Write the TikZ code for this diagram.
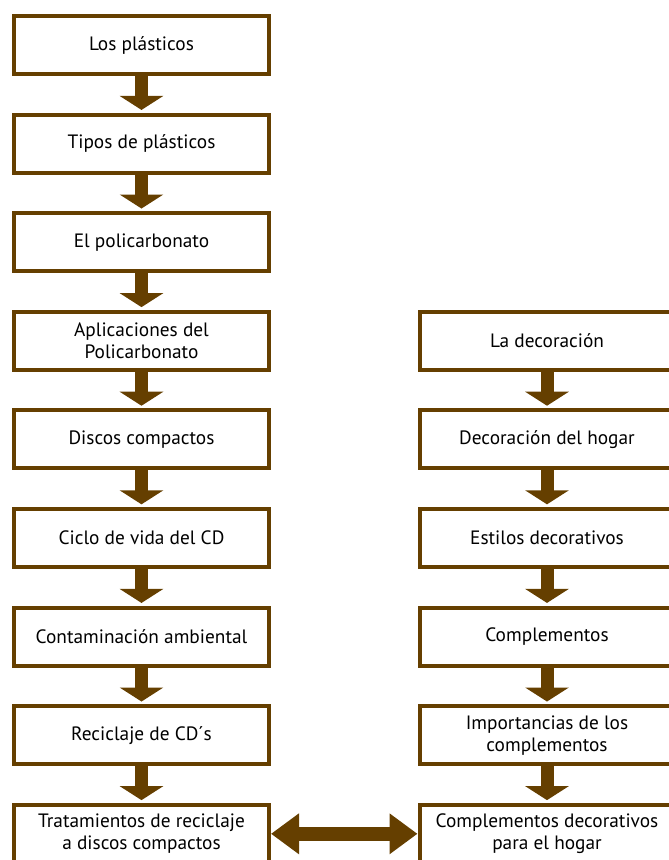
\documentclass[tikz,border=0pt]{standalone}
\usepackage{fontspec}
\setmainfont{PT Sans}
\usetikzlibrary{arrows.meta}
\definecolor{brownline}{HTML}{653F00}

\begin{document}
\begin{tikzpicture}[x=0.75pt, y=-0.75pt,
    box/.style={draw=brownline, line width=3pt, fill=white, align=center,
        minimum width=191.25pt, minimum height=43.5pt, inner sep=2pt,
        font=\fontsize{14.5pt}{16.5pt}\selectfont},
    flow/.style={draw=brownline, line width=9.75pt, shorten >=2pt,
        -{Triangle[width=32.25pt, length=10.5pt]}},
    link/.style={draw=brownline, line width=10.5pt,
        {Triangle[width=29.25pt, length=21pt]}-{Triangle[width=29.25pt, length=21pt]}}]
    \useasboundingbox (0,0) rectangle (668,860);
    % left column
    \foreach \txt [count=\i] in {Los plásticos, Tipos de plásticos, El policarbonato,
            {Aplicaciones del\\Policarbonato}, Discos compactos, Ciclo de vida del CD,
            Contaminación ambiental, Reciclaje de CD´s,
            {Tratamientos de reciclaje\\a discos compactos}} {
        \pgfmathsetmacro{\ypos}{45+98.6*(\i-1)}
        \node[box] (L\i) at (141.5,\ypos) {\txt};
    }
    % right column
    \foreach \txt [count=\i from 4] in {La decoración, Decoración del hogar,
            Estilos decorativos, Complementos,
            {Importancias de los\\complementos},
            {Complementos decorativos\\para el hogar}} {
        \pgfmathsetmacro{\ypos}{45+98.6*(\i-1)}
        \node[box] (R\i) at (547,\ypos) {\txt};
    }
    \foreach \i [evaluate=\i as \j using int(\i+1)] in {1,...,8}
        \draw[flow] (L\i.south) -- (L\j.north);
    \foreach \i [evaluate=\i as \j using int(\i+1)] in {4,...,8}
        \draw[flow] (R\i.south) -- (R\j.north);
    \draw[link] (L9.east) -- (R9.west);
\end{tikzpicture}
\end{document}
